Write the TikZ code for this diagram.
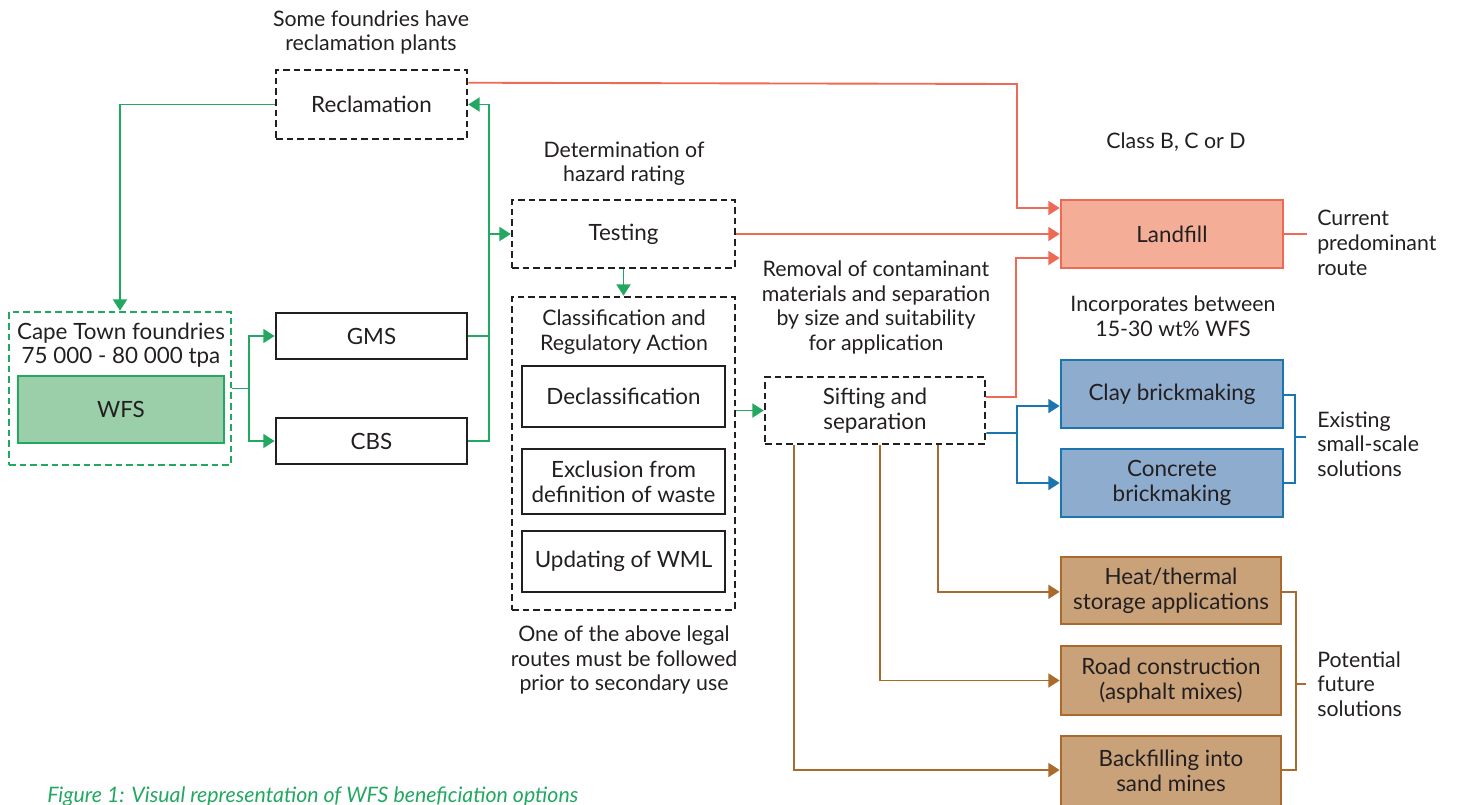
\documentclass[tikz,border=0pt]{standalone}
\usepackage{fontspec}
\setmainfont{Lato}
\usetikzlibrary{arrows.meta,calc}
\definecolor{ink}{HTML}{231F20}
\definecolor{gline}{HTML}{22A860}
\definecolor{gfill}{HTML}{9BCFA9}
\definecolor{rline}{HTML}{EE6A55}
\definecolor{rfill}{HTML}{F4AE98}
\definecolor{bline}{HTML}{1B75AE}
\definecolor{bfill}{HTML}{8EACCD}
\definecolor{nline}{HTML}{A96A2C}
\definecolor{nfill}{HTML}{C9A27A}
\begin{document}
\begin{tikzpicture}[x=0.75pt,y=-0.75pt,
 every node/.style={font=\fontsize{16}{18.5}\selectfont, text=ink, align=center, inner sep=0pt},
 lbl/.style={},
 bt/.style={font=\fontsize{16.8}{18.5}\selectfont},
 dbox/.style={bt, draw=ink, line width=1.9pt, dash pattern=on 5pt off 3pt},
 sbox/.style={bt, draw=ink, line width=2.1pt},
 gdbox/.style={draw=gline, line width=1.9pt, dash pattern=on 5pt off 3pt},
 wfsbox/.style={bt, draw=gline, fill=gfill, line width=2pt},
 redbox/.style={bt, draw=rline, fill=rfill, line width=2pt},
 bluebox/.style={bt, draw=bline, fill=bfill, line width=2pt},
 brbox/.style={bt, draw=nline, fill=nfill, line width=2pt},
 tip/.style={-{Triangle[length=8.5pt,width=10.5pt]}},
 gcon/.style={draw=gline, line width=1.4pt},
 rcon/.style={draw=rline, line width=1.4pt},
 bcon/.style={draw=bline, line width=1.4pt},
 ncon/.style={draw=nline, line width=1.4pt},
]
\useasboundingbox (0,0) rectangle (1457,804);

% boxes
\node[dbox, minimum width=143.25pt, minimum height=51.75pt] (rec) at (371.5,104.5) {Reclamation};
\node[sbox, minimum width=143.25pt, minimum height=34.5pt] (gms) at (371.5,336) {GMS};
\node[sbox, minimum width=143.25pt, minimum height=34.5pt] (cbs) at (371.5,441) {CBS};
\node[gdbox, minimum width=166.5pt, minimum height=114.75pt] (cape) at (120,388.5) {};
\node[wfsbox, minimum width=154.5pt, minimum height=50.25pt] (wfs) at (121,409.5) {WFS};
\node[dbox, minimum width=167.25pt, minimum height=51pt] (test) at (623.5,234) {Testing};
\node[dbox, minimum width=167.25pt, minimum height=234.75pt] (cls) at (623.5,453.5) {};
\node[sbox, minimum width=152.25pt, minimum height=45.75pt] (decl) at (623.5,396.5) {Declassification};
\node[sbox, minimum width=152.25pt, minimum height=48.75pt] (excl) at (623.5,481.5) {Exclusion from\\definition of waste};
\node[sbox, minimum width=152.25pt, minimum height=45.75pt] (upd) at (623.5,561.5) {Updating of WML};
\node[dbox, minimum width=165pt, minimum height=50.25pt] (sift) at (875,410.5) {Sifting and\\separation};
\node[redbox, minimum width=166.5pt, minimum height=51pt] (land) at (1172,234) {Landfill};
\node[bluebox, minimum width=166.5pt, minimum height=51pt] (clay) at (1172,394) {Clay brickmaking};
\node[bluebox, minimum width=166.5pt, minimum height=51pt] (conc) at (1172,483) {Concrete\\brickmaking};
\node[brbox, minimum width=165pt, minimum height=50.25pt] (heat) at (1171,590.5) {Heat/thermal\\storage applications};
\node[brbox, minimum width=165pt, minimum height=51.75pt] (road) at (1171,680.5) {Road construction\\(asphalt mixes)};
\node[brbox, minimum width=165pt, minimum height=52.5pt] (back) at (1171,771) {Backfilling into\\sand mines};

% labels
\node[lbl] (l1) at (371,32.5) {Some foundries have\\reclamation plants};
\node[lbl, bt] (l2) at (121,345) {Cape Town foundries\\75 000 - 80 000 tpa};
\node[lbl] (l3) at (624,163.5) {Determination of\\hazard rating};
\node[lbl] (l4) at (624,332) {Classification and\\Regulatory Action};
\node[lbl] (l5) at (624,660) {One of the above legal\\routes must be followed\\prior to secondary use};
\node[lbl] (l6) at (876,307.5) {Removal of contaminant\\materials and separation\\by size and suitability\\for application};
\node[lbl] (l7) at (1176,142) {Class B, C or D};
\node[lbl] (l8) at (1173,316) {Incorporates between\\15-30 wt\% WFS};
\node[lbl, align=left, anchor=west] (l9) at (1317,243) {Current\\predominant\\route};
\node[lbl, align=left, anchor=west] (l10) at (1317,444) {Existing\\small-scale\\solutions};
\node[lbl, align=left, anchor=west] (l11) at (1317,684) {Potential\\future\\solutions};
\node[anchor=base west, font=\itshape\fontsize{16}{18}\selectfont, text=gline] (cap) at (47,802) {Figure 1: Visual representation of WFS beneficiation options};

% green connectors
\coordinate (j1) at (249,388.5);
\draw[gcon] (cape.east) -- (j1);
\draw[gcon, tip] (j1) |- (gms.west);
\draw[gcon, tip] (j1) |- (cbs.west);
\coordinate (j2) at (489,441);
\draw[gcon] (gms.east) -- (gms.east -| j2);
\draw[gcon, tip] (cbs.east) -- (j2) |- (rec.east);
\draw[gcon, tip] (j2 |- test.west) -- (test.west);
\draw[gcon, tip] (rec.west) -| (cape.north);
\draw[gcon, tip] (test.south) -- (cls.north);
\draw[gcon, tip] (cls.east |- sift.west) -- (sift.west);

% red connectors
\coordinate (j3) at (1017,84);
\draw[rcon, tip] ([yshift=-10.5pt]rec.north east) -- (j3) |- ([yshift=19.5pt]land.west);
\draw[rcon, tip] (test.east) -- (land.west);
\draw[rcon, tip] ([yshift=10.1pt]sift.east) -| ($(land.west)+(-44,24)$) -- ([yshift=-18pt]land.west);
\draw[rcon] (land.east) -- ++(23,0);

% blue connectors
\coordinate (j4) at (1017,433);
\draw[bcon] ([yshift=-16.9pt]sift.east) -- (j4);
\draw[bcon, tip] (j4) |- ([yshift=-9pt]clay.west);
\draw[bcon, tip] (j4) |- (conc.west);
\draw[bcon] ([yshift=-0.5pt]clay.east) -| (1295,483) -- ([yshift=0pt]conc.east);
\draw[bcon] (1295,437) -- (1306,437);

% brown connectors
\draw[ncon, tip] (sift.south -| 938,0) |- ([yshift=-1pt]heat.west);
\draw[ncon, tip] (sift.south -| 880,0) |- (road.west);
\draw[ncon, tip] (sift.south -| 794,0) |- ([yshift=0.75pt]back.west);
\draw[ncon] ([yshift=-1pt]heat.east) -| (1296,770) -- ([yshift=0.75pt]back.east);
\draw[ncon] (1296,684) -- (1306,684);
\end{tikzpicture}
\end{document}
